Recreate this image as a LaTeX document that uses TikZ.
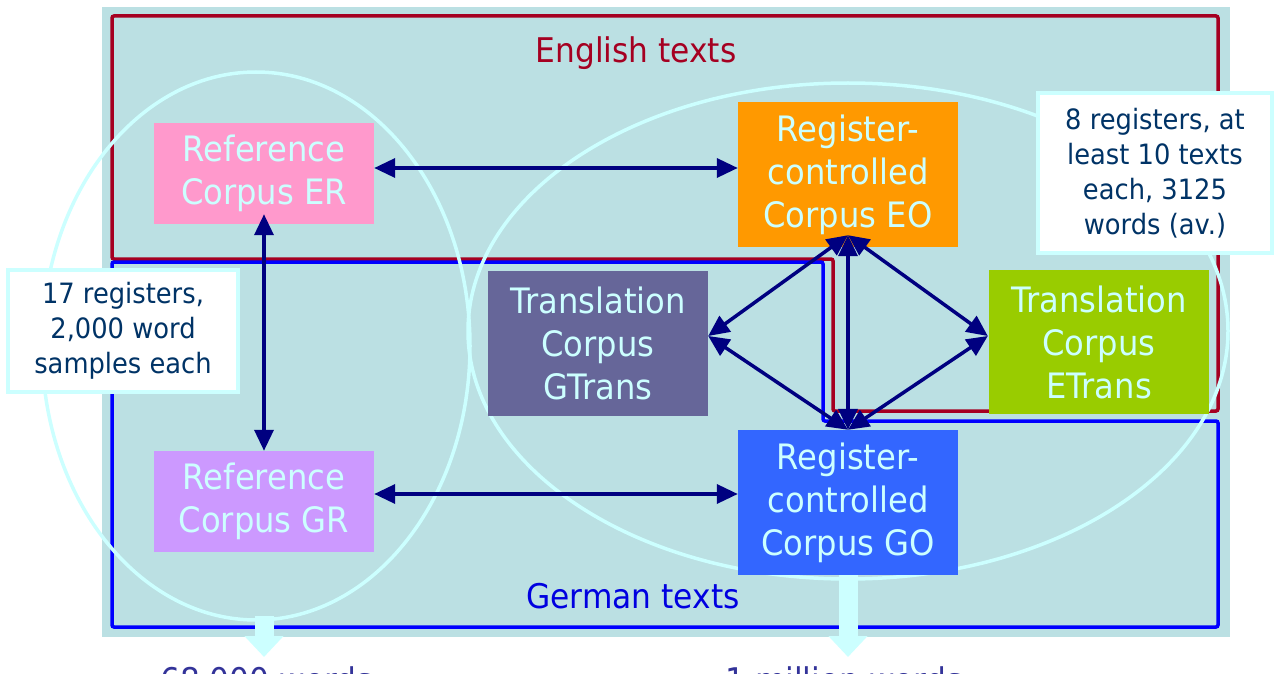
\documentclass[tikz,border=0pt]{standalone}
\usepackage{fontspec}
\setmainfont{DejaVu Sans}[FakeStretch=0.92]
\usetikzlibrary{arrows.meta,calc}
\definecolor{bgc}{HTML}{BBE0E3}
\definecolor{redl}{HTML}{A50021}
\definecolor{bluel}{HTML}{0000FF}
\definecolor{cyanl}{HTML}{CCFFFF}
\definecolor{navyl}{HTML}{000080}
\definecolor{pinkc}{HTML}{FF99CC}
\definecolor{orangec}{HTML}{FF9900}
\definecolor{purplec}{HTML}{666699}
\definecolor{greenc}{HTML}{99CC00}
\definecolor{lavc}{HTML}{CC99FF}
\definecolor{gbluec}{HTML}{3366FF}
\definecolor{calltext}{HTML}{003366}
\definecolor{bottomtext}{HTML}{333399}
\definecolor{germanc}{HTML}{0000E0}
\begin{document}
\begin{tikzpicture}[x=1pt,y=-1pt,
  corpus/.style={inner sep=0pt, align=center, text=cyanl, minimum width=220pt,
     font=\fontsize{35}{43}\selectfont},
  callout/.style={draw=cyanl, line width=3.5pt, fill=white, inner sep=0pt, align=center,
     text=calltext, font=\fontsize{28}{35}\selectfont},
  link/.style={draw=navyl, line width=3.5pt,
     {Triangle[length=21pt,width=19pt]}-{Triangle[length=21pt,width=19pt]}},
  ring/.style={draw=cyanl, line width=3.5pt},
  bigarrow/.style={draw=cyanl, line width=19pt, -{Triangle[length=21pt,width=38pt]}},
  label/.style={inner sep=0pt, font=\fontsize{34}{40}\selectfont}
]
\useasboundingbox (0,0) rectangle (1278,674);
% background
\fill[bgc] (102,7) rectangle (1230,637);
% language regions
\draw[redl, line width=3.5pt, rounded corners=2pt]
  (112,16) -- (1218,16) -- (1218,411) -- (833,411) -- (833,259) -- (112,259) -- cycle;
\draw[bluel, line width=3.5pt, rounded corners=2pt]
  (112,262) -- (823,262) -- (823,421) -- (1218,421) -- (1218,627) -- (112,627) -- cycle;
% ellipses
\draw[ring] (256,346) ellipse [x radius=214, y radius=274];
\draw[ring] (848,331) ellipse [x radius=380, y radius=248];
% region labels
\node[label, text=redl, anchor=base] (eng) at (636,63) {English texts};
\node[label, text=germanc, anchor=base] (ger) at (633,608) {German texts};
% corpora
\node[corpus, fill=pinkc, minimum height=101pt] (ER) at (264,173.5) {Reference\\Corpus ER};
\node[corpus, fill=orangec, minimum height=145pt] (EO) at (848,174.5) {Register-\\controlled\\Corpus EO};
\node[corpus, fill=purplec, minimum height=145pt] (GT) at (598,343) {Translation\\Corpus\\GTrans};
\node[corpus, fill=greenc, minimum height=144pt] (ET) at (1099,342) {Translation\\Corpus\\ETrans};
\node[corpus, fill=lavc, minimum height=101pt] (GR) at (264,501.5) {Reference\\Corpus GR};
\node[corpus, fill=gbluec, minimum height=145pt] (GO) at (848,502.5) {Register-\\controlled\\Corpus GO};
% big arrows
\coordinate (lstart) at (264,616);
\coordinate (lend) at (264,657);
\coordinate (rend) at (848,657);
\draw[bigarrow] (lstart) -- (lend);
\draw[bigarrow] (GO.south) -- (rend);
% links
\draw[link] ([yshift=5.5pt]ER.east) -- ([yshift=6.5pt]EO.west);
\draw[link] ([yshift=7.5pt]GR.east) -- ([yshift=8.5pt]GO.west);
\draw[link] ([yshift=10pt]ER.south) -- (GR.north);
\coordinate (eohub) at ([yshift=12pt]EO.south);
\coordinate (gohub) at (GO.north);
\coordinate (gtp) at ([yshift=7pt]GT.east);
\coordinate (etp) at ([xshift=-1pt,yshift=6pt]ET.west);
\draw[link] (eohub) -- (gohub);
\draw[link] (eohub) -- (gtp);
\draw[link] (eohub) -- (etp);
\draw[link] (gohub) -- (gtp);
\draw[link] (gohub) -- (etp);
% callouts
\node[callout, minimum width=230pt, minimum height=122pt] (c1) at (123,331)
  {17 registers,\\2,000 word\\samples each};
\node[callout, minimum width=234pt, minimum height=160pt] (c2) at (1155,173)
  {8 registers, at\\least 10 texts\\each, 3125\\words (av.)};
% bottom totals (cut off by the page edge, as in the reference)
\node[label, text=bottomtext, anchor=base west] (t1) at (160,692) {68,000 words};
\node[label, text=bottomtext, anchor=base west] (t2) at (725,692) {1 million words};
\end{tikzpicture}
\end{document}
